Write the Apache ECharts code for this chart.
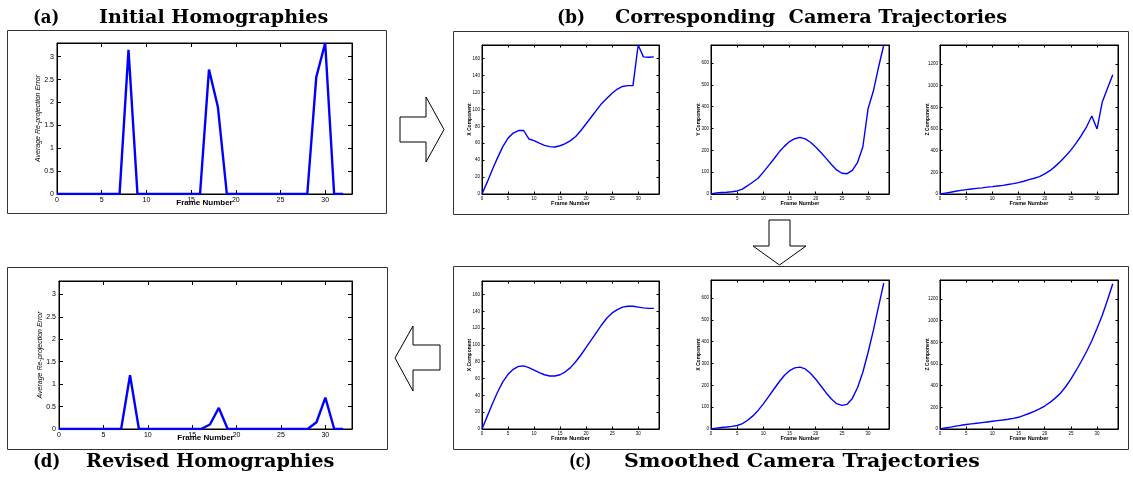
<!DOCTYPE html>
<html><head><meta charset="utf-8">
<script src="https://cdn.jsdelivr.net/npm/echarts@6/dist/echarts.min.js"></script>
<style>html,body{margin:0;padding:0;background:#fff}#c{width:1133px;height:478px}</style>
</head><body><div id="c"></div>
<script>
// ---------- data ----------
const framesHomog = Array.from({length: 33}, (_, i) => i);   // frames 0..32
const errInitial = [0,0,0,0,0,0,0,0,3.15,0,0,0,0,0,0,0,0,2.72,1.9,0,0,0,0,0,0,0,0,0,0,2.55,3.3,0,0];
const errRevised = [0,0,0,0,0,0,0,0,1.2,0,0,0,0,0,0,0,0,0.1,0.47,0,0,0,0,0,0,0,0,0,0,0.15,0.7,0,0];

const framesTraj = Array.from({length: 34}, (_, i) => i);    // frames 0..33
const xRaw = [0,14,29,43,56,66,72,75,75,65,63,60,57.5,56,55.5,57,59.5,63,68,75,83,91,99,107,113,119,124,127,128,128,176,162,161.5,162];
const yRaw = [0,5,7,8,10,14,22,38,55,72,100,130,160,192,218,240,253,259,252,237,215,190,163,135,110,95,93,108,145,215,390,470,580,682];
const zRaw = [0,8,16,25,33,40,46,52,57,63,68,74,80,88,96,105,118,133,145,160,185,215,255,300,350,405,470,540,620,720,600,850,975,1100];
const xSmooth = [0,15,30,44,56,65,71,74.5,75,73,70,67,64.5,63,63,64.5,68,73,80,88,97,106,115,124,132,138,142,145,146,146,145,144,143.5,143.5];
const ySmooth = [0,4,7,9,12,16,25,40,60,85,115,148,182,215,245,267,280,283,275,255,228,197,165,137,116,108,113,140,190,260,350,450,560,668];
const zSmooth = [0,9,17,26,34,41,47,53,59,65,71,77,83,90,98,108,125,143,163,185,212,245,285,330,390,460,540,625,715,815,930,1050,1190,1340];

const xAxisName = 'Frame Number';
const errAxisName = 'Average Re-projection Error';
const trajNamesB = ['X Component', 'Y Component', 'Z Component'];
const trajNamesC = ['X Component', 'X Component', 'Z Component'];
const titleA = ['(a)', 'Initial Homographies'];
const titleB = ['(b)', 'Corresponding  Camera Trajectories'];
const titleC = ['(c)', 'Smoothed Camera Trajectories'];
const titleD = ['(d)', 'Revised Homographies'];

// ---------- layout ----------
const panels = [
  {box:[57,43,295,151], x:framesHomog, y:errInitial, xMax:33, yMax:3.3, yInt:0.5, yName:errAxisName, big:true},
  {box:[59,281,293,148], x:framesHomog, y:errRevised, xMax:33, yMax:3.3, yInt:0.5, yName:errAxisName, big:true},
  {box:[482,45,177,149], x:framesTraj, y:xRaw, xMax:34, yMax:176, yInt:20, yName:trajNamesB[0]},
  {box:[711,45,178,149], x:framesTraj, y:yRaw, xMax:34, yMax:682, yInt:100, yName:trajNamesB[1]},
  {box:[940,45,178,149], x:framesTraj, y:zRaw, xMax:34, yMax:1375, yInt:200, yName:trajNamesB[2]},
  {box:[482,281,177,148], x:framesTraj, y:xSmooth, xMax:34, yMax:176, yInt:20, yName:trajNamesC[0]},
  {box:[711,280,178,149], x:framesTraj, y:ySmooth, xMax:34, yMax:682, yInt:100, yName:trajNamesC[1]},
  {box:[940,280,178,149], x:framesTraj, y:zSmooth, xMax:34, yMax:1375, yInt:200, yName:trajNamesC[2]}
];

const grid = [], xAxis = [], yAxis = [], series = [];
const fam = 'Liberation Sans';
panels.forEach((p, i) => {
  const big = !!p.big;
  const fs = big ? 7 : 4.5;
  const tl = big ? 4 : 2.5;
  grid.push({left:p.box[0], top:p.box[1], width:p.box[2], height:p.box[3], show:true,
    borderColor:'#000', borderWidth:1, backgroundColor:'#fff', containLabel:false, outerBoundsMode:'none'});
  const isMult = (v, s) => Math.abs(v / s - Math.round(v / s)) < 1e-6;
  const common = {gridIndex:i, type:'value', splitLine:{show:false},
    axisLine:{show:true, onZero:false, lineStyle:{color:'#000', width:1}},
    axisTick:{show:true, inside:true, length:tl, lineStyle:{color:'#000', width:1}}};
  xAxis.push(Object.assign({}, common, {min:0, max:p.xMax, interval:5, position:'bottom',
    axisLabel:{fontSize:fs, color:'#000', fontFamily:fam, margin:big?3:2, formatter:v => isMult(v,5) ? String(v) : ''},
    name:xAxisName, nameLocation:'middle', nameGap:big?5:6, nameMoveOverlap:false,
    nameTextStyle:{fontSize:big?8:5.5, fontWeight:'bold', color:'#000', fontFamily:fam}}));
  xAxis.push(Object.assign({}, common, {min:0, max:p.xMax, interval:5, position:'top', axisLabel:{show:false}}));
  yAxis.push(Object.assign({}, common, {min:0, max:p.yMax, interval:p.yInt, position:'left',
    axisLabel:{fontSize:fs, color:'#000', fontFamily:fam, margin:big?3:2,
      formatter:v => isMult(v,p.yInt) ? String(Math.round(v*10)/10) : ''},
    name:p.yName, nameLocation:'middle', nameGap:big?15:10, nameRotate:90, nameMoveOverlap:false,
    nameTextStyle:{fontSize:big?7:5, fontStyle:big?'italic':'normal', fontWeight:big?'normal':'bold', color:'#000', fontFamily:fam}}));
  yAxis.push(Object.assign({}, common, {min:0, max:p.yMax, interval:p.yInt, position:'right', axisLabel:{show:false}}));
  series.push({type:'line', xAxisIndex:2*i, yAxisIndex:2*i, showSymbol:false, symbol:'none',
    lineStyle:{color:'#0000ff', width:big?2.4:1.4}, data:p.x.map((f, k) => [f, p.y[k]]), clip:true, z:3});
});

const tfont = 'bold 18px "DejaVu Serif"';
function txt(t, x, y, sx) {
  return {type:'text', x:x, y:y, scaleX:sx || 1, style:{text:t, font:tfont, fill:'#000', textAlign:'left', textVerticalAlign:'middle'}};
}
function frame(x1, y1, x2, y2) {
  return {type:'rect', shape:{x:x1 + 0.5, y:y1 + 0.5, width:x2 - x1, height:y2 - y1},
    style:{fill:'none', stroke:'#333', lineWidth:1}, z:-1};
}
function arrow(pts) { return {type:'polygon', shape:{points:pts}, style:{fill:'#fff', stroke:'#000', lineWidth:1}}; }

const graphic = [
  frame(7,30,386,213), frame(453,31,1128,214), frame(7,267,387,449), frame(453,266,1128,449),
  arrow([[400,117],[426,117],[426,97],[444,129.5],[426,162],[426,142],[400,142]]),
  arrow([[769,220],[790,220],[790,246],[806,246],[779.5,265],[753,246],[769,246]]),
  arrow([[395,358],[413,326],[413,345],[440,345],[440,370],[413,370],[413,391]]),
  txt(titleA[0], 33, 18, 0.92), txt(titleA[1], 99, 18, 1.06),
  txt(titleB[0], 557, 18, 0.95), txt(titleB[1], 615, 18, 1.07),
  txt(titleD[0], 33, 462, 0.92), txt(titleD[1], 86, 462, 1.07),
  txt(titleC[0], 569, 462, 0.8), txt(titleC[1], 624, 462, 1.14)
];

const chart = echarts.init(document.getElementById('c'), null, {renderer:'canvas'});
chart.setOption({animation:false, backgroundColor:'#fff', grid, xAxis, yAxis, series, graphic});
</script></body></html>
